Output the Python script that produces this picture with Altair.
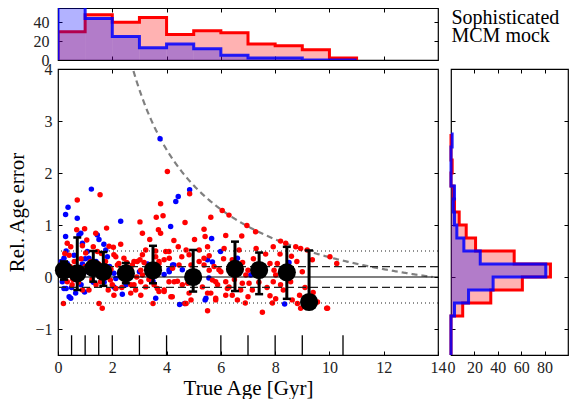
import altair as alt
import pandas as pd

FONT = "Liberation Serif"
RED = "#ff0000"
BLUE = "#0000ff"

# ---------------- data ----------------
# top histogram: true age, 1 Gyr bins
age_edges = [0, 1, 2, 3, 4, 5, 6, 7, 8, 9, 10, 11]
red_age_counts = [30, 48, 40, 45, 27, 31, 29, 17, 15, 11, 2]
blue_age_counts = [65, 44, 25, 13, 17, 12, 5, 2, 2, 0, 0]

# right histogram: relative age error, 0.25 bins
err_edges = [-1.5, -1.25, -1.0, -0.75, -0.5, -0.25, 0.0, 0.25, 0.5, 0.75,
             1.0, 1.25, 1.5, 1.75, 2.0, 2.25, 2.5, 2.75]
red_err_counts = [0, 0, 0, 10, 34, 61, 85, 54, 21, 13, 7, 3, 2, 0, 1, 0, 0]
blue_err_counts = [0, 0, 0, 3, 15, 36, 81, 25, 11, 5, 3, 2, 3, 0, 0, 0, 1]

# scatter: red sample (true age, relative age error)
red_age = [4.03, 1.55, 0.71, 4.85, 3.78, 3.62, 3.87, 4.68, 3.02, 1.79, 3.11, 3.7, 3.78, 5.38, 5.63, 6.05, 6.3,
           6.96, 7.28, 6.18, 6.77, 5.42, 0.69, 0.98, 1.39, 0.34, 0.47, 1.06, 1.3, 2.04, 2.31, 0.41, 1.02, 1.45,
           2.13, 2.43, 2.53, 2.8, 3.02, 3.17, 2.19, 2.68, 3.05, 3.11, 0.34, 0.52, 0.9, 1.14, 1.57, 2.0, 2.8,
           3.05, 2.68, 0.2, 1.51, 1.63, 3.38, 4.27, 4.43, 3.6, 4.09, 4.56, 5.51, 5.57, 6.12, 3.91, 5.2, 5.38,
           4.83, 4.46, 3.72, 5.75, 5.93, 4.09, 4.4, 4.58, 3.66, 3.91, 4.21, 4.83, 5.32, 5.63, 5.81, 6.24, 6.42,
           6.61, 3.5, 4.68, 5.51, 6.73, 6.92, 6.8, 6.18, 5.13, 5.81, 7.65, 8.18, 7.81, 8.08, 7.96, 8.02, 7.53,
           7.0, 7.04, 7.93, 8.2, 8.57, 7.81, 8.02, 8.63, 8.82, 8.94, 9.56, 9.93, 7.53, 7.0, 7.16, 8.2, 8.39,
           8.76, 8.94, 9.18, 7.93, 10.02, 10.27, 9.37, 1.88, 2.06, 2.24, 2.74, 2.92, 3.11, 3.23, 3.29, 3.41,
           3.6, 3.72, 3.97, 4.1, 4.22, 4.28, 4.16, 3.91, 3.72, 3.54, 3.23, 3.05, 2.86, 2.68, 2.13, 2.06, 1.93,
           5.2, 5.38, 5.57, 5.69, 5.88, 5.51, 5.81, 6.18, 6.3, 6.42, 6.67, 6.79, 4.9, 4.78, 4.9, 4.72, 5.03,
           4.72, 0.15, 0.45, 0.6, 0.85, 1.0, 1.2, 1.5, 1.75, 1.95, 2.3, 2.45, 0.55, 0.75, 1.25, 1.4, 1.85,
           2.35, 2.6, 2.9, 3.35, 0.25, 0.9, 1.6, 6.0, 6.1, 6.5, 7.2, 7.4, 7.7, 8.3, 8.5, 8.8, 9.0, 9.1, 9.4,
           8.9, 7.3, 6.9, 7.9, 8.6, 9.9]
red_err = [2.03, 1.58, 1.48, 1.6, 1.41, 1.15, 1.18, 1.05, 1.06, 0.94, 0.84, 0.91, 0.84, 0.92, 1.15, 1.28, 1.19,
           0.99, 0.87, 0.8, 0.79, 0.78, 0.91, 0.93, 0.84, 0.65, 0.58, 0.71, 0.58, 0.57, 0.63, 0.42, 0.46, 0.49,
           0.39, 0.36, 0.28, 0.3, 0.33, 0.28, 0.23, 0.17, 0.13, 0.04, -0.09, -0.15, -0.25, -0.25, -0.09, -0.15,
           -0.15, -0.09, -0.31, -0.51, -0.51, -0.6, 0.72, 0.7, 0.58, 0.5, 0.49, 0.39, 0.58, 0.41, 0.55, 0.33,
           0.3, 0.36, 0.43, 0.23, 0.26, 0.2, 0.14, -0.09, -0.08, -0.15, -0.22, -0.28, -0.38, -0.31, -0.19,
           -0.31, -0.41, -0.22, -0.35, -0.44, -0.51, -0.51, -0.65, -0.25, 0.04, 0.28, -0.09, 0.04, -0.09, 0.44,
           0.44, 0.26, 0.26, 0.13, 0.04, 0.09, 0.13, -0.12, -0.09, -0.15, -0.09, -0.36, -0.42, -0.44, -0.51,
           -0.6, -0.48, -0.6, -0.68, -0.38, -0.25, 0.69, 0.65, 0.58, 0.55, 0.52, 0.58, 0.39, 0.26, 0.33, 0.59,
           0.43, 0.26, 0.23, 0.3, 0.43, 0.52, 0.2, 0.07, 0.39, 0.3, 0.49, 0.36, 0.17, -0.09, -0.38, -0.25,
           -0.28, -0.15, -0.19, -0.35, -0.25, -0.15, -0.22, -0.35, -0.06, 0.52, 0.23, 0.13, -0.06, -0.15,
           -0.31, -0.44, -0.35, -0.19, 0.33, 0.52, -0.12, 0.23, -0.12, -0.44, 0.52, 0.72, -0.51, 0.25, 0.2,
           0.3, 0.35, 0.2, 0.3, 0.25, 0.3, 0.15, 0.1, -0.05, -0.05, -0.1, -0.05, -0.15, -0.25, -0.2, 0.05,
           0.0, -0.05, 0.45, 0.6, 0.45, 0.1, 0.35, -0.05, 0.35, -0.1, -0.2, -0.25, 0.2, 0.3, 0.1, -0.2, -0.3,
           -0.35, 0.55, -0.5, -0.5, 0.4, -0.6]

# scatter: blue sample
blue_age = [1.23, 0.37, 0.28, 0.71, 0.28, 0.84, 0.77, 0.9, 1.45, 1.51, 1.69, 1.76, 2.31, 0.22, 0.34, 0.59, 1.08,
            1.14, 1.82, 0.22, 0.41, 0.65, 0.98, 2.06, 2.12, 2.37, 0.16, 0.47, 3.76, 4.85, 4.43, 4.34, 4.15, 5.66,
            5.99, 4.27, 4.09, 3.91, 4.58, 5.56, 3.5, 5.42, 4.48, 6.61, 8.35, 8.51, 7.1, 4.66, 5.45, 5.51, 5.69,
            4.22, 4.1, 3.6, 2.5, 2.06, 2.13, 0.3, 0.47, 0.1, 0.2, 0.35, 0.5, 0.6, 0.8, 0.9, 1.1, 1.3, 1.55, 1.7,
            1.9, 0.12, 0.3, 0.5, 0.85, 1.0, 1.4, 3.0, 3.3]
blue_err = [1.69, 1.34, 1.2, 1.13, 0.78, 0.84, 0.81, 0.65, 0.81, 0.72, 0.63, 0.52, 1.07, 0.36, 0.26, 0.42, 0.49,
            0.36, 0.39, -0.22, -0.38, -0.31, -0.29, 0.07, -0.22, -0.33, -0.09, 0.04, 2.66, 1.68, 1.55, 1.45, 0.97,
            0.74, 0.49, 0.23, 0.14, 0.05, 0.14, -0.02, -0.08, -0.44, -0.53, 0.36, -0.52, 0.28, 0.04, -0.51, -0.41,
            0.33, 0.29, 0.23, 0.1, -0.41, -0.15, -0.19, -0.03, -0.22, -0.41, 0.1, 0.15, 0.05, 0.15, -0.05, 0.1,
            0.25, 0.1, -0.1, 0.1, -0.1, 0.2, 0.3, 0.5, -0.2, -0.15, 0.35, 0.3, 0.1, 0.25]

# binned medians with spread
bin_age = [0.22, 0.71, 1.3, 1.67, 2.5, 3.5, 4.98, 6.52, 7.41, 8.43, 9.25]
bin_med = [0.13, 0.07, 0.17, 0.1, 0.07, 0.13, 0.0, 0.155, 0.135, 0.09, -0.48]
bin_lo = [-0.05, -0.25, -0.09, -0.17, -0.12, -0.12, -0.28, -0.27, -0.33, -0.42, -0.5]
bin_hi = [0.3, 0.76, 0.5, 0.48, 0.27, 0.6, 0.52, 0.68, 0.47, 0.58, 0.51]

# bin edges marked along the bottom
rug_edges = [0.5, 1, 1.5, 2, 3, 4, 6, 7, 8, 9, 10.5]

# reference levels
zero_level = [0.0]
dash_levels = [-0.2, 0.2]
dot_levels = [-0.5, 0.5]
universe_age = 13.8

# tick values
age_ticks = [0, 2, 4, 6, 8, 10, 12, 14]
age_inner_ticks = [2, 4, 6, 8, 10, 12]
err_ticks = [-1, 0, 1, 2, 3, 4]
err_inner_ticks = [-1, 0, 1, 2, 3]
top_count_ticks = [0, 20, 40]
top_count_inner = [20, 40]
right_count_ticks = [0, 20, 40, 60, 80]
right_count_inner = [20, 40, 60, 80]
label_lines = ["Sophisticated", "MCM mock"]

# ---------------- helpers ----------------
W_MAIN, H_MAIN = 380, 286
W_RIGHT, H_TOP = 117, 52

xs_age = alt.Scale(domain=[0, 14], nice=False, zero=False)
ys_err = alt.Scale(domain=[-1.5, 4], nice=False, zero=False)
ys_top = alt.Scale(domain=[0, 55.2], nice=False, zero=False)
xs_cnt = alt.Scale(domain=[0, 100], nice=False, zero=False)

LAB = 16
TICK = dict(domain=False, grid=False, tickSize=4, offset=-4, tickColor="black", tickWidth=1,
            labelColor="#222222", labelFontSize=LAB, labelOverlap=False, labelFlush=False, labelBound=False)


def ax_bottom(values, labels=True, title=None, **kw):
    return alt.Axis(orient="bottom", values=values, labels=labels, format="d", labelPadding=17,
                    labelBaseline="alphabetic", title=title, **TICK, **kw)


def ax_left(values, labels=True, pad=6, title=None, **kw):
    return alt.Axis(orient="left", values=values, labels=labels, format="d", labelPadding=pad,
                    title=title, **TICK, **kw)


def ax_top(values):
    return alt.Axis(orient="top", values=values, labels=False, title=None, **TICK)


def ax_right(values):
    return alt.Axis(orient="right", values=values, labels=False, title=None, **TICK)


def carriers(xscale, yscale, xa1, ya1, xa2, ya2, xdom, ydom):
    df = pd.DataFrame({"x": xdom, "y": ydom})
    a = alt.Chart(df).mark_point(opacity=0).encode(
        x=alt.X("x:Q", scale=xscale, axis=xa1), y=alt.Y("y:Q", scale=yscale, axis=ya1))
    b = alt.Chart(df).mark_point(opacity=0).encode(
        x=alt.X("x:Q", scale=xscale, axis=xa2), y=alt.Y("y:Q", scale=yscale, axis=ya2))
    return [a, b]


def step_vertical(edges, counts):
    xs, ys = [edges[0]], [0]
    for i, c in enumerate(counts):
        xs += [edges[i], edges[i + 1]]
        ys += [c, c]
    xs.append(edges[-1])
    ys.append(0)
    return pd.DataFrame({"e": xs, "c": ys, "o": list(range(len(xs)))})


def bins_df(edges, counts):
    return pd.DataFrame({"lo": edges[:-1], "hi": edges[1:], "c": counts, "z": [0] * len(counts)})


# ---------------- top panel ----------------
top_layers = carriers(
    xs_age, ys_top,
    alt.Axis(orient="bottom", values=age_inner_ticks, labels=False, title=None, **TICK),
    ax_left(top_count_ticks, pad=9),
    ax_top(age_inner_ticks), ax_right(top_count_inner), [0, 14], [0, 55])


def top_hist(counts, color, op=1.0):
    fill = alt.Chart(bins_df(age_edges, counts)).mark_rect(color=color, opacity=0.3, clip=True,
                                                          strokeWidth=0).encode(
        x=alt.X("lo:Q", scale=xs_age, axis=None), x2="hi:Q",
        y=alt.Y("c:Q", scale=ys_top, axis=None), y2="z:Q")
    line = alt.Chart(step_vertical(age_edges, counts)).mark_line(
        color=color, strokeWidth=3, clip=True, strokeJoin="miter", opacity=op).encode(
        x=alt.X("e:Q", scale=xs_age, axis=None), y=alt.Y("c:Q", scale=ys_top, axis=None), order="o:Q")
    return fill, line


rf, rl = top_hist(red_age_counts, RED)
bf, bl = top_hist(blue_age_counts, BLUE, 0.85)
label = alt.Chart(pd.DataFrame({"a": [0]})).mark_text(
    text=label_lines, align="left", baseline="top", fontSize=20, lineHeight=18, font=FONT,
    color="black").encode(x=alt.value(393.5), y=alt.value(0))
top = alt.layer(*top_layers, rf, rl, bf, bl, label).resolve_axis(
    x="independent", y="independent").properties(width=W_MAIN, height=H_TOP)

# ---------------- main panel ----------------
main_layers = carriers(
    xs_age, ys_err,
    ax_bottom(age_ticks, title="True Age [Gyr]", titleFontSize=21, titleFontWeight="normal",
              titleColor="black", titleX=190, titleY=43, titleBaseline="alphabetic", titleAlign="center"),
    ax_left(err_ticks, pad=6, title="Rel. Age error", titleFontSize=21, titleFontWeight="normal",
            titleColor="black", titleX=-39, titleY=143, titleAngle=270, titleBaseline="alphabetic",
            titleAlign="center"),
    ax_top(age_inner_ticks), ax_right(err_inner_ticks), [0, 14], [-1.5, 4])

X = lambda f: alt.X(f, scale=xs_age, axis=None)
Y = lambda f: alt.Y(f, scale=ys_err, axis=None)

curve = alt.Chart(alt.sequence(2.5, universe_age + 0.001, 0.02, as_="t")).transform_calculate(
    r=f"{universe_age} / datum.t - 1").mark_line(color="#808080", strokeWidth=2.2, strokeDash=[6, 4],
                                                clip=True).encode(x=X("t:Q"), y=Y("r:Q"))

blue_pts = alt.Chart(pd.DataFrame({"x": blue_age, "y": blue_err})).mark_circle(
    color=BLUE, size=30, opacity=1).encode(x=X("x:Q"), y=Y("y:Q"))
red_pts = alt.Chart(pd.DataFrame({"x": red_age, "y": red_err})).mark_circle(
    color=RED, size=30, opacity=1).encode(x=X("x:Q"), y=Y("y:Q"))

zero_line = alt.Chart(pd.DataFrame({"y": zero_level})).mark_rule(color="black", strokeWidth=1.2).encode(
    y=Y("y:Q"))
dash_lines = alt.Chart(pd.DataFrame({"y": dash_levels})).mark_rule(
    color="#222222", strokeWidth=1.3, strokeDash=[8, 4]).encode(y=Y("y:Q"))
dot_lines = alt.Chart(pd.DataFrame({"y": dot_levels})).mark_rule(
    color="#222222", strokeWidth=1.2, strokeDash=[1, 3]).encode(y=Y("y:Q"))

rug = alt.Chart(pd.DataFrame({"x": rug_edges})).transform_calculate(y0="-1.5", y1="-1.12").mark_rule(
    color="black", strokeWidth=1.3).encode(x=X("x:Q"), y=Y("y0:Q"), y2="y1:Q")

bins = pd.DataFrame({"x": bin_age, "m": bin_med, "lo": bin_lo, "hi": bin_hi})
err_bars = alt.Chart(bins).mark_rule(color="black", strokeWidth=3).encode(x=X("x:Q"), y=Y("lo:Q"), y2="hi:Q")
cap_lo = alt.Chart(bins).mark_rule(color="black", strokeWidth=2.5, xOffset=-4, x2Offset=4).encode(
    x=X("x:Q"), x2="x:Q", y=Y("lo:Q"))
cap_hi = alt.Chart(bins).mark_rule(color="black", strokeWidth=2.5, xOffset=-4, x2Offset=4).encode(
    x=X("x:Q"), x2="x:Q", y=Y("hi:Q"))
meds = alt.Chart(bins).mark_circle(color="black", size=330, opacity=1).encode(x=X("x:Q"), y=Y("m:Q"))

main = alt.layer(*main_layers, curve, blue_pts, red_pts, zero_line, dash_lines, dot_lines, rug,
                 err_bars, cap_lo, cap_hi, meds).resolve_axis(
    x="independent", y="independent").properties(width=W_MAIN, height=H_MAIN)

# ---------------- right panel ----------------
right_layers = carriers(
    xs_cnt, ys_err,
    ax_bottom(right_count_ticks), ax_left(err_inner_ticks, labels=False),
    ax_top(right_count_inner), ax_right(err_inner_ticks), [0, 100], [-1.5, 4])


def side_hist(counts, color, op=1.0):
    fill = alt.Chart(bins_df(err_edges, counts)).mark_rect(color=color, opacity=0.3, strokeWidth=0).encode(
        x=alt.X("z:Q", scale=xs_cnt, axis=None), x2="c:Q",
        y=alt.Y("lo:Q", scale=ys_err, axis=None), y2="hi:Q")
    line = alt.Chart(step_vertical(err_edges, counts)).mark_line(
        color=color, strokeWidth=3, strokeJoin="miter", opacity=op).encode(
        x=alt.X("c:Q", scale=xs_cnt, axis=None), y=alt.Y("e:Q", scale=ys_err, axis=None), order="o:Q")
    return fill, line


srf, srl = side_hist(red_err_counts, RED)
sbf, sbl = side_hist(blue_err_counts, BLUE, 0.85)
right = alt.layer(*right_layers, srf, srl, sbf, sbl).resolve_axis(
    x="independent", y="independent").properties(width=W_RIGHT, height=H_MAIN)

chart = alt.vconcat(
    top,
    alt.hconcat(main, right, spacing=13, bounds="flush"),
    spacing=9, bounds="flush",
).properties(padding={"left": -3, "top": -4, "right": 0, "bottom": 0}).configure(
    font=FONT).configure_view(stroke="black", strokeWidth=1.2)

chart.save("out.html", embed_options={"renderer": "svg", "actions": False})
